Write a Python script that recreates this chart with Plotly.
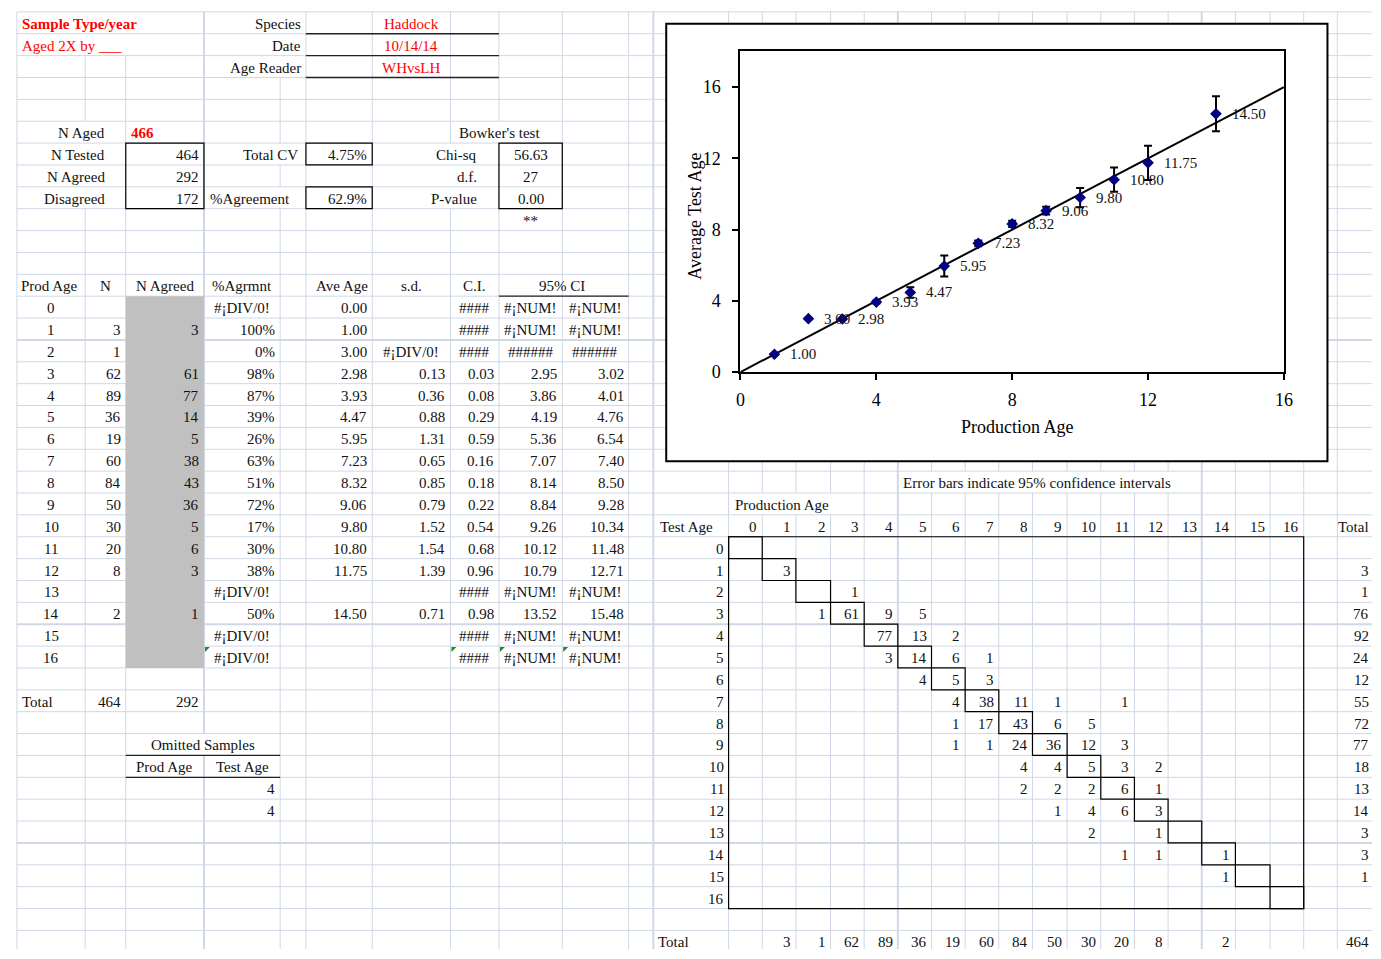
import plotly.graph_objects as go

sample_title = "Sample Type/year"
aged_by = "Aged 2X by ___"
species_labels = ["Species", "Date", "Age Reader"]
species_values = ["Haddock", "10/14/14", "WHvsLH"]

n_aged = 466
summary_labels = ["N Tested", "N Agreed", "Disagreed"]
summary_values = [464, 292, 172]
total_cv = "4.75%"
pct_agreement = "62.9%"
bowker_title = "Bowker's test"
bowker_labels = ["Chi-sq", "d.f.", "P-value"]
bowker_values = ["56.63", "27", "0.00"]
bowker_signif = "**"

table_headers = ["Prod Age", "N", "N Agreed", "%Agrmnt", "Ave Age", "s.d.", "C.I.", "95% CI"]
prod_age = list(range(17))
n_fish = [None, 3, 1, 62, 89, 36, 19, 60, 84, 50, 30, 20, 8, None, 2, None, None]
n_agreed = [None, 3, None, 61, 77, 14, 5, 38, 43, 36, 5, 6, 3, None, 1, None, None]
pct_agree = ["#¡DIV/0!", "100%", "0%", "98%", "87%", "39%", "26%", "63%", "51%", "72%",
             "17%", "30%", "38%", "#¡DIV/0!", "50%", "#¡DIV/0!", "#¡DIV/0!"]
ave_age = [0.00, 1.00, 3.00, 2.98, 3.93, 4.47, 5.95, 7.23, 8.32, 9.06, 9.80, 10.80, 11.75,
           None, 14.50, None, None]
sd_age = [None, None, "#¡DIV/0!", 0.13, 0.36, 0.88, 1.31, 0.65, 0.85, 0.79, 1.52, 1.54, 1.39,
          None, 0.71, None, None]
ci_half = ["####", "####", "####", 0.03, 0.08, 0.29, 0.59, 0.16, 0.18, 0.22, 0.54, 0.68, 0.96,
           "####", 0.98, "####", "####"]
ci_low = ["#¡NUM!", "#¡NUM!", "######", 2.95, 3.86, 4.19, 5.36, 7.07, 8.14, 8.84, 9.26, 10.12,
          10.79, "#¡NUM!", 13.52, "#¡NUM!", "#¡NUM!"]
ci_high = ["#¡NUM!", "#¡NUM!", "######", 3.02, 4.01, 4.76, 6.54, 7.40, 8.50, 9.28, 10.34, 11.48,
           12.71, "#¡NUM!", 15.48, "#¡NUM!", "#¡NUM!"]
total_n = 464
total_agreed = 292
omitted_headers = ["Prod Age", "Test Age"]
omitted_test_age = [4, 4]

_ = None
test_age = list(range(17))
age_matrix = [  # rows = test age 0..16, columns = production age 0..16
    [_, _, _, _, _, _, _, _, _, _, _, _, _, _, _, _, _],
    [_, 3, _, _, _, _, _, _, _, _, _, _, _, _, _, _, _],
    [_, _, _, 1, _, _, _, _, _, _, _, _, _, _, _, _, _],
    [_, _, 1, 61, 9, 5, _, _, _, _, _, _, _, _, _, _, _],
    [_, _, _, _, 77, 13, 2, _, _, _, _, _, _, _, _, _, _],
    [_, _, _, _, 3, 14, 6, 1, _, _, _, _, _, _, _, _, _],
    [_, _, _, _, _, 4, 5, 3, _, _, _, _, _, _, _, _, _],
    [_, _, _, _, _, _, 4, 38, 11, 1, _, 1, _, _, _, _, _],
    [_, _, _, _, _, _, 1, 17, 43, 6, 5, _, _, _, _, _, _],
    [_, _, _, _, _, _, 1, 1, 24, 36, 12, 3, _, _, _, _, _],
    [_, _, _, _, _, _, _, _, 4, 4, 5, 3, 2, _, _, _, _],
    [_, _, _, _, _, _, _, _, 2, 2, 2, 6, 1, _, _, _, _],
    [_, _, _, _, _, _, _, _, _, 1, 4, 6, 3, _, _, _, _],
    [_, _, _, _, _, _, _, _, _, _, 2, _, 1, _, _, _, _],
    [_, _, _, _, _, _, _, _, _, _, _, 1, 1, _, 1, _, _],
    [_, _, _, _, _, _, _, _, _, _, _, _, _, _, 1, _, _],
    [_, _, _, _, _, _, _, _, _, _, _, _, _, _, _, _, _],
]
row_totals = [None, 3, 1, 76, 92, 24, 12, 55, 72, 77, 18, 13, 14, 3, 3, 1, None]
col_totals = [None, 3, 1, 62, 89, 36, 19, 60, 84, 50, 30, 20, 8, None, 2, None, None]
grand_total = 464
chart_note = "Error bars indicate 95% confidence intervals"
x_title = "Production Age"
y_title = "Average Test Age"
axis_ticks = [0, 4, 8, 12, 16]

# ---------------- layout constants ----------------
W, H = 1381, 959
COL_X = [12, 81, 122, 201, 278, 304, 371, 450, 499, 563, 630, 655,
         731, 765, 799, 834, 868, 902, 936, 970, 1004, 1038, 1073, 1107,
         1141, 1175, 1209, 1243, 1278, 1312, 1346, 1381]
ROW_TOP0 = 12.0
ROW_H = 22.1
N_ROWS = 43
SERIF = "Liberation Serif"
FS = 15
GRID = "#d0d7e5"
RED = "#ff0000"
INK = "#111111"


def rt(r):
    return ROW_TOP0 + ROW_H * r


def rc(r):
    return ROW_TOP0 + ROW_H * (r + 0.5)


def cl(i):
    return COL_X[i]


def cr(i):
    return COL_X[i + 1]


def cc(i):
    return (COL_X[i] + COL_X[i + 1]) / 2


shapes = []
anns = []


def line(x0, y0, x1, y1, color=GRID, width=1):
    shapes.append(dict(type="line", xref="x", yref="y", x0=x0, y0=y0, x1=x1, y1=y1,
                       line=dict(color=color, width=width), layer="below"))


def rect(x0, y0, x1, y1, color="black", width=1.2, fill=None):
    d = dict(type="rect", xref="x", yref="y", x0=x0, y0=y0, x1=x1, y1=y1,
             line=dict(color=color, width=width), layer="below")
    if fill:
        d["fillcolor"] = fill
    shapes.append(d)


def txt(x, r, s, anchor="right", color=INK, size=FS, bold=False):
    if s is None or s == "":
        return
    s = str(s)
    if bold:
        s = "<b>" + s + "</b>"
    anns.append(dict(x=x, y=rc(r) + 1, xref="x", yref="y", text=s, showarrow=False,
                     xanchor=anchor, yanchor="middle",
                     font=dict(family=SERIF, size=size, color=color)))


def fmt(v):
    if v is None:
        return ""
    if isinstance(v, str):
        return v
    return "%.2f" % v


# ---------------- grid ----------------
hidden = {81: {0, 1, 5, 6, 7, 8}, 122: {0, 1}, 278: {0, 1, 2, 6, 8},
          450: {6, 7, 8}, 499: {5}, 201: {33},
          765: {22}, 799: {22}, 834: {22}}
for xv in [936, 970, 1004, 1038, 1073, 1107, 1141, 1175]:
    hidden[xv] = {21}
thick_cols = {201, 655, 902, 1209}
thick_rows = {15, 28, 38}

for k in range(N_ROWS + 1):
    line(COL_X[0], rt(k), W, rt(k), width=2 if k in thick_rows else 1)
for xv in COL_X[:-1]:
    hid = hidden.get(xv, set())
    r = 0
    while r < N_ROWS:
        if r in hid:
            r += 1
            continue
        r2 = r
        while r2 < N_ROWS and r2 not in hid:
            r2 += 1
        line(xv, rt(r), xv, min(rt(r2), H + 5), width=2 if xv in thick_cols else 1)
        r = r2

# gray fill for N Agreed column
shapes.append(dict(type="rect", xref="x", yref="y", x0=cl(2), x1=cr(2), y0=rt(13), y1=rt(30),
                   fillcolor="#c0c0c0", line=dict(width=0), layer="below"))

# chart area (white, black border)
rect(668, 24, 1336, 466, width=2, fill="white")

# ---------------- header block ----------------
txt(cl(0) + 3, 0, sample_title, "left", RED, bold=True)
txt(cl(0) + 3, 1, aged_by, "left", RED)
for i, (lab, val) in enumerate(zip(species_labels, species_values)):
    txt(cr(4) - 3, i, lab, "right")
    txt(cc(6), i, val, "center", RED)
    line(cl(5), rt(i + 1), cr(7), rt(i + 1), color="#222222", width=1.3)

# ---------------- summary block ----------------
txt(103, 5, "N Aged", "right")
txt(cl(2) + 3, 5, n_aged, "left", RED, bold=True)
for i, (lab, val) in enumerate(zip(summary_labels, summary_values)):
    txt(103, 6 + i, lab, "right")
    txt(cr(2) - 3, 6 + i, val, "right")
rect(cl(2), rt(6), cr(2), rt(9))
txt(cr(4) - 6, 6, "Total CV", "right")
txt(cr(5) - 3, 6, total_cv, "right")
rect(cl(5), rt(6), cr(5), rt(7))
txt(cl(3) + 4, 8, "%Agreement", "left")
txt(cr(5) - 3, 8, pct_agreement, "right")
rect(cl(5), rt(8), cr(5), rt(9))
txt(500, 5, bowker_title, "center")
for i, (lab, val) in enumerate(zip(bowker_labels, bowker_values)):
    txt(479, 6 + i, lab, "right")
    txt(cc(8), 6 + i, val, "center")
rect(cl(8), rt(6), cr(8), rt(9))
txt(cc(8), 9, bowker_signif, "center")

# ---------------- age table ----------------
hr = 12
txt(cl(0) + 2, hr, table_headers[0], "left")
txt(cc(1), hr, table_headers[1], "center")
txt(cc(2), hr, table_headers[2], "center")
txt(cc(3), hr, table_headers[3], "center")
txt(cr(5) - 2, hr, table_headers[4], "right")
txt(cc(6), hr, table_headers[5], "center")
txt(cc(7), hr, table_headers[6], "center")
txt(cr(8), hr, table_headers[7], "center")
line(cl(8), rt(hr + 1), cr(9), rt(hr + 1), color="#222222", width=1.3)


def cell(col, r, v, err_center=True):
    s = fmt(v)
    if s.startswith("#") and err_center:
        txt(cc(col), r, s, "center")
    else:
        txt(cr(col) - 3, r, s, "right")


for i, a in enumerate(prod_age):
    r = 13 + i
    txt(cc(0), r, a, "center")
    txt(cr(1) - 3, r, n_fish[i] if n_fish[i] is not None else "", "right")
    txt(cr(2) - 3, r, n_agreed[i] if n_agreed[i] is not None else "", "right")
    cell(3, r, pct_agree[i])
    cell(5, r, ave_age[i])
    cell(6, r, sd_age[i])
    cell(7, r, ci_half[i])
    cell(8, r, ci_low[i])
    cell(9, r, ci_high[i])

# green error-indicator triangles (row of production age 16)
for col in (3, 7, 8, 9):
    x0, y0 = cl(col) + 1, rt(29) + 1
    shapes.append(dict(type="path", xref="x", yref="y",
                       path="M %f,%f L %f,%f L %f,%f Z" % (x0, y0, x0 + 5, y0, x0, y0 + 5),
                       fillcolor="#1e8c1e", line=dict(width=0), layer="below"))

txt(cl(0) + 3, 31, "Total", "left")
txt(cr(1) - 3, 31, total_n, "right")
txt(cr(2) - 3, 31, total_agreed, "right")

txt((cl(2) + cr(3)) / 2, 33, "Omitted Samples", "center")
line(cl(2), rt(34), cr(3), rt(34), color="#222222", width=1.3)
txt(cc(2), 34, omitted_headers[0], "center")
txt(cc(3), 34, omitted_headers[1], "center")
line(cl(2), rt(35), cr(3), rt(35), color="#222222", width=1.3)
for i, v in enumerate(omitted_test_age):
    txt(cr(3) - 3, 35 + i, v, "right")

# ---------------- age-bias matrix ----------------
txt(cl(17) + 3, 21, chart_note, "left")
txt(cl(12) + 4, 22, x_title, "left")
txt(cl(11) + 5, 23, "Test Age", "left")
for j, a in enumerate(prod_age):
    txt(cr(12 + j) - 3, 23, a, "right")
txt(W - 1, 23, "Total", "right")
rect(cl(12), rt(24), cr(28), rt(41))
for i, t in enumerate(test_age):
    r = 24 + i
    txt(cr(11) - 3, r, t, "right")
    for j, v in enumerate(age_matrix[i]):
        if v is not None:
            txt(cr(12 + j) - 3, r, v, "right")
    if row_totals[i] is not None:
        txt(W - 1, r, row_totals[i], "right")
    # diagonal agreement cell box
    rect(cl(12 + i), rt(r), cr(12 + i), rt(r + 1))
txt(cl(11) + 3, 42, "Total", "left")
for j, v in enumerate(col_totals):
    if v is not None:
        txt(cr(12 + j) - 3, 42, v, "right")
txt(W - 1, 42, grand_total, "right")

# ---------------- chart ----------------
pt_x, pt_y, pt_ci = [], [], []
for a, nn, v, c in zip(prod_age, n_fish, ave_age, ci_half):
    if nn is not None and v is not None:
        pt_x.append(a)
        pt_y.append(v)
        pt_ci.append(c if isinstance(c, (int, float)) else 0)
max_age = prod_age[-1]

fig = go.Figure()
fig.add_trace(go.Scatter(x=[], y=[], xaxis="x", yaxis="y", showlegend=False, hoverinfo="skip"))
fig.add_trace(go.Scatter(x=[0, max_age], y=[0, max_age], mode="lines",
                         line=dict(color="black", width=2), xaxis="x2", yaxis="y2",
                         showlegend=False, hoverinfo="skip"))
fig.add_trace(go.Scatter(x=pt_x, y=pt_y, mode="markers",
                         marker=dict(symbol="diamond", size=9, color="#000080",
                                     line=dict(width=0)),
                         error_y=dict(type="data", array=pt_ci, symmetric=True, color="black",
                                      thickness=2, width=4),
                         xaxis="x2", yaxis="y2", showlegend=False, hoverinfo="skip",
                         cliponaxis=False))
for a, v in zip(pt_x, pt_y):
    anns.append(dict(x=a, y=v, xref="x2", yref="y2", text="%.2f" % v, showarrow=False,
                     xanchor="left", yanchor="middle", xshift=14,
                     font=dict(family=SERIF, size=FS, color=INK)))
anns.append(dict(x=1023, y=431, xref="x", yref="y", text=x_title, showarrow=False,
                 xanchor="center", yanchor="middle",
                 font=dict(family=SERIF, size=18, color="black")))
anns.append(dict(x=697, y=218, xref="x", yref="y", text=y_title, showarrow=False,
                 textangle=-90, xanchor="center", yanchor="middle",
                 font=dict(family=SERIF, size=18, color="black")))

axis_common = dict(tickvals=axis_ticks, ticks="outside", ticklen=6, tickwidth=2,
                   tickcolor="black", showline=True, linewidth=2, linecolor="black",
                   mirror=True, showgrid=False, zeroline=False, fixedrange=True,
                   tickfont=dict(family=SERIF, size=18, color="black"))

fig.update_layout(
    width=W, height=H, margin=dict(l=0, r=0, t=0, b=0),
    paper_bgcolor="white", plot_bgcolor="white", showlegend=False, hovermode=False,
    xaxis=dict(domain=[0, 1], range=[0, W], visible=False, fixedrange=True),
    yaxis=dict(domain=[0, 1], range=[H, 0], visible=False, fixedrange=True),
    xaxis2=dict(domain=[743 / W, 1292 / W], range=[0, max_age], anchor="y2",
                ticklabelstandoff=4, **axis_common),
    yaxis2=dict(domain=[1 - 376 / H, 1 - 52 / H], range=[0, 18], anchor="x2",
                ticklabelstandoff=8, **axis_common),
    shapes=shapes, annotations=anns,
)

fig.write_html(
    "out.html",
    config={"displayModeBar": False},
    post_script=(
        "var s=document.documentElement.style;s.margin='0';s.padding='0';s.overflow='hidden';"
        "var b=document.body.style;b.margin='0';b.padding='0';b.overflow='hidden';"
    ),
)
